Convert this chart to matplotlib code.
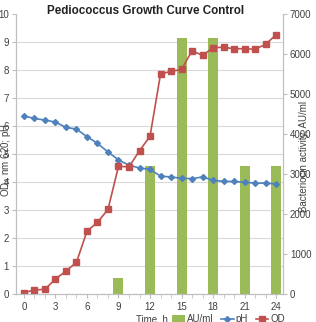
import numpy as np
import matplotlib
matplotlib.use("Agg")
import matplotlib.pyplot as plt
from matplotlib.patches import Patch
from matplotlib.lines import Line2D

plt.rcParams['font.family'] = ['Liberation Sans', 'DejaVu Sans']

# data
hours = [0, 1, 2, 3, 4, 5, 6, 7, 8, 9, 10, 11, 12,
         13, 14, 15, 16, 17, 18, 19, 20, 21, 22, 23, 24]
od = [0.05, 0.14, 0.17, 0.53, 0.82, 1.13, 2.24, 2.56, 3.02, 4.56, 4.54, 5.12, 5.63,
      7.86, 7.95, 8.02, 8.69, 8.52, 8.80, 8.81, 8.76, 8.76, 8.74, 8.92, 9.26]
ph = [6.36, 6.27, 6.21, 6.14, 5.95, 5.89, 5.62, 5.38, 5.07, 4.79, 4.60, 4.50, 4.45,
      4.21, 4.18, 4.13, 4.12, 4.18, 4.06, 4.02, 4.02, 3.99, 3.96, 3.96, 3.93]
au_hours = [9, 12, 15, 18, 21, 24]
au = [400, 3200, 6400, 6400, 3200, 3200]

x_ticks = [0, 3, 6, 9, 12, 15, 18, 21, 24]
left_ticks = [0, 1, 2, 3, 4, 5, 6, 7, 8, 9, 10]
right_ticks = [0, 1000, 2000, 3000, 4000, 5000, 6000, 7000]

RED = "#C0504D"
BLUE = "#4F81BD"
GREEN = "#9BBB59"
GRID = "#D9D9D9"
AXIS = "#BFBFBF"
TXT = "#404040"

fig = plt.figure(figsize=(3.16, 3.22), dpi=100)
ax2 = fig.add_axes([16 / 316, 1 - 294 / 322, (283 - 16) / 316, (294 - 14) / 322])
ax = ax2.twinx()
ax.yaxis.tick_left()
ax2.yaxis.tick_right()
ax.set_zorder(ax2.get_zorder() + 1)
ax.patch.set_visible(False)

# bars on right axis, grid behind bars
ax2.bar(au_hours, au, width=0.95, color=GREEN, zorder=2)
ax2.set_ylim(0, 7000)
ax2.set_yticks(right_ticks)
ax2.set_yticks([v * 700 for v in left_ticks], minor=True)
ax2.grid(which='minor', axis='y', color=GRID, lw=0.8, zorder=0)
ax2.set_axisbelow(True)
ax2.tick_params(axis='y', which='minor', length=0)
ax2.tick_params(axis='y', which='major', labelsize=7, colors=AXIS, labelcolor=TXT,
                length=3, pad=2)

ax.plot(hours, ph, color=BLUE, marker='D', markersize=3, lw=1.2)
ax.plot(hours, od, color=RED, marker='s', markersize=4.3, lw=1.2)
ax.set_ylim(0, 10)
ax.set_yticks(left_ticks)
ax.tick_params(axis='y', labelsize=7, colors=AXIS, labelcolor=TXT, length=3, pad=2)

ax2.set_xlim(-0.75, 24.65)
ax2.set_xticks(x_ticks)
ax2.set_xticks(hours, minor=True)
ax2.tick_params(axis='x', which='both', labelsize=7, colors=AXIS, labelcolor=TXT,
                length=3, pad=3)

for a in (ax, ax2):
    a.spines['top'].set_visible(False)
    for s in ('left', 'right', 'bottom'):
        a.spines[s].set_color(AXIS)
        a.spines[s].set_linewidth(0.8)

fig.text(146 / 316, 1 - 11 / 322, "Pediococcus Growth Curve Control",
         ha='center', va='center', fontsize=8.4, fontweight='bold', color='#222222',
         bbox=dict(facecolor='white', edgecolor='none', pad=0.5), zorder=10)
fig.text(6 / 316, 1 - 160 / 322, "OD$_A$ nm 620; pH", rotation=90,
         ha='center', va='center', fontsize=7, color=TXT)
fig.text(304 / 316, 1 - 157 / 322, "Bacteriocin activity, AU/ml", rotation=90,
         ha='center', va='center', fontsize=7, color=TXT)
fig.text(152 / 316, 1 - 319 / 322, "Time, h", ha='center', va='center',
         fontsize=7, color=TXT)

handles = [Patch(facecolor=GREEN),
           Line2D([], [], color=BLUE, marker='D', markersize=3, lw=1.2),
           Line2D([], [], color=RED, marker='s', markersize=4.3, lw=1.2)]
fig.legend(handles, ["AU/ml", "pH", "OD"], ncol=3, loc='center left',
           bbox_to_anchor=(172 / 316, 1 - 319 / 322), frameon=False, fontsize=7,
           handlelength=1.3, handletextpad=0.2, columnspacing=0.8,
           borderpad=0, borderaxespad=0, labelcolor=TXT)

fig.savefig("out.png", dpi=100)
